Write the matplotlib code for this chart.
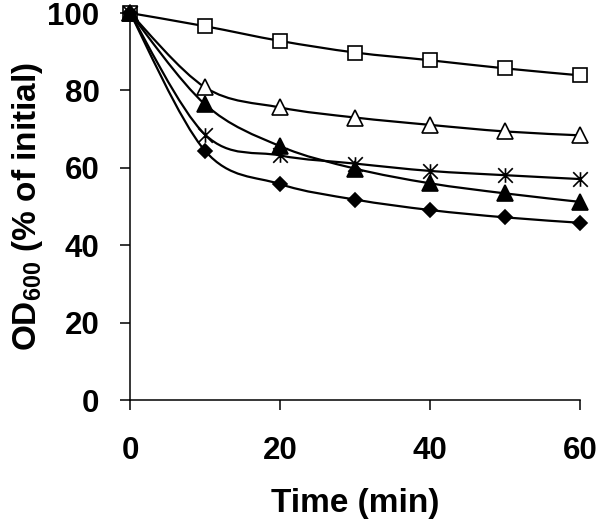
import numpy as np
import matplotlib
matplotlib.use("Agg")
from matplotlib import pyplot as plt
from matplotlib.path import Path
from matplotlib.patches import PathPatch

# time points (min)
time = [0, 10, 20, 30, 40, 50, 60]

# OD600, % of initial
squares = [100, 96.6, 92.8, 89.8, 87.8, 85.7, 83.9]
open_tri = [100, 80.8, 75.6, 73.0, 71.1, 69.4, 68.4]
filled_tri = [100, 76.4, 65.6, 59.8, 56.0, 53.4, 51.2]
stars = [100, 68.6, 63.2, 61.1, 59.2, 58.1, 57.1]
diamonds = [100, 64.4, 55.8, 51.8, 49.1, 47.2, 45.8]

plt.rcParams['font.family'] = ['Liberation Sans', 'DejaVu Sans']
plt.rcParams['font.weight'] = 'bold'
plt.rcParams['mathtext.fontset'] = 'custom'
plt.rcParams['mathtext.rm'] = 'Liberation Sans:bold'
plt.rcParams['mathtext.bf'] = 'Liberation Sans:bold'

# excel style asterisk: vertical bar plus an x
star_marker = Path([(0, -1), (0, 1), (-1, -1), (1, 1), (-1, 1), (1, -1)],
                   [Path.MOVETO, Path.LINETO, Path.MOVETO, Path.LINETO, Path.MOVETO, Path.LINETO])


def smooth_path(x, y):
    # cubic bezier through points, like excel's smoothed line
    pts = np.column_stack([x, y]).astype(float)
    n = len(pts)
    verts = [pts[0]]
    codes = [Path.MOVETO]
    for i in range(n - 1):
        p0 = pts[max(i - 1, 0)]
        p1 = pts[i]
        p2 = pts[i + 1]
        p3 = pts[min(i + 2, n - 1)]
        c1 = p1 + (p2 - p0) / 6.0
        c2 = p2 - (p3 - p1) / 6.0
        verts += [c1, c2, p2]
        codes += [Path.CURVE4] * 3
    return Path(verts, codes)


fig = plt.figure(figsize=(6.0, 5.22), dpi=100)
ax = fig.add_axes([0.2167, 0.2337, 0.75, 0.7413])

series = [
    (squares, 's', 'white', 10.5),
    (open_tri, '^', 'white', 11),
    (filled_tri, '^', 'black', 11),
    (stars, star_marker, 'black', 10.5),
    (diamonds, 'D', 'black', 7.5),
]

for vals, mk, fc, ms in series:
    ax.add_patch(PathPatch(smooth_path(time, vals), facecolor='none', edgecolor='black',
                           lw=1.6, zorder=2, clip_on=False))
    ax.plot(time, vals, linestyle='none', marker=mk, markersize=ms, markerfacecolor=fc,
            markeredgecolor='black', markeredgewidth=1.2, zorder=3, clip_on=False)

ax.set_xlim(0, 60)
ax.set_ylim(0, 100)
ax.set_xticks([0, 20, 40, 60])
ax.set_yticks([0, 20, 40, 60, 80, 100])
ax.spines['top'].set_visible(False)
ax.spines['right'].set_visible(False)
for s in ['left', 'bottom']:
    ax.spines[s].set_linewidth(1.1)
ax.tick_params(direction='out', length=7, width=1.1, labelsize=22.5)
ax.tick_params(axis='x', pad=19)
ax.tick_params(axis='y', pad=15)
for lab in ax.get_xticklabels() + ax.get_yticklabels():
    lab.set_fontweight('bold')

ax.set_xlabel('Time (min)', fontsize=24, fontweight='bold', labelpad=16)
ax.set_ylabel(r'OD$_{600}$ (% of initial)', fontsize=24, fontweight='bold')
ax.yaxis.set_label_coords(-0.19, 0.5)

fig.savefig('out.png', dpi=100)
